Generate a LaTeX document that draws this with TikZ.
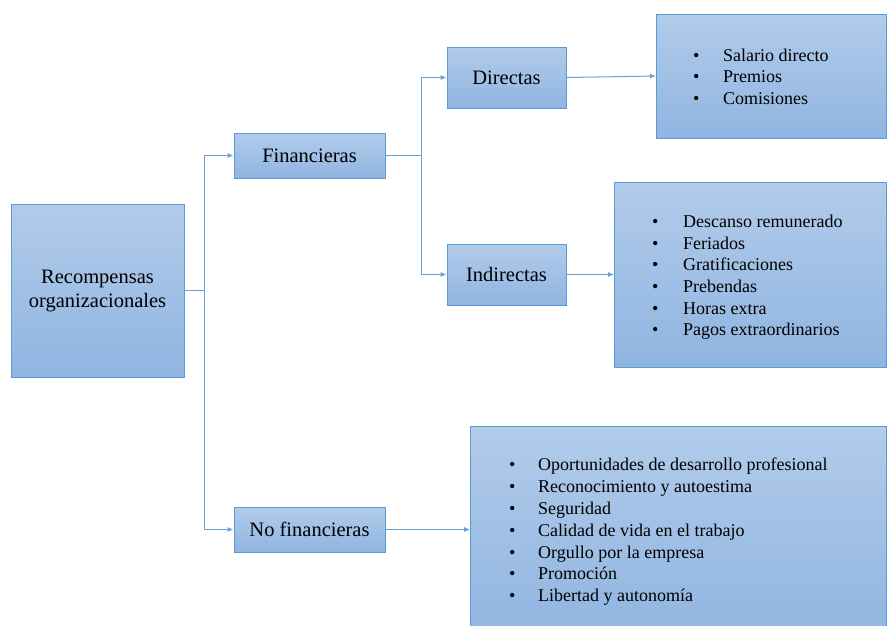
\documentclass[tikz,border=0pt]{standalone}
\usepackage{fontspec}
\setmainfont{Liberation Serif}
\usetikzlibrary{arrows.meta}

\definecolor{boxtop}{RGB}{178,203,234}
\definecolor{boxbot}{RGB}{143,181,225}
\definecolor{edge}{RGB}{91,155,213}
\definecolor{wire}{RGB}{105,160,215}

\tikzset{
  catbox/.style={draw=edge, line width=1pt, top color=boxtop, bottom color=boxbot,
    inner sep=0pt, font=\fontsize{20.5}{24}\selectfont, align=center},
  listbox/.style={draw=edge, line width=1pt, top color=boxtop, bottom color=boxbot, inner sep=0pt},
  item/.style={anchor=base west, inner sep=0pt, font=\fontsize{18}{22}\selectfont},
  wireline/.style={draw=wire, line width=1pt},
  wirearrow/.style={wireline, -{Latex[length=6pt,width=5pt]}}
}

\begin{document}
\begin{tikzpicture}[x=1pt,y=-1pt]
\useasboundingbox (0,0) rectangle (887,625);

% category boxes
\node[catbox, minimum width=173pt, minimum height=173pt] (rec) at (97.5,290.5) {Recompensas\\organizacionales};
\node[catbox, minimum width=151pt, minimum height=45pt] (fin) at (309.5,155.5) {Financieras};
\node[catbox, minimum width=151pt, minimum height=45pt] (nof) at (309.5,529.5) {No financieras};
\node[catbox, minimum width=119pt, minimum height=61pt] (dir) at (506.5,77.5) {Directas};
\node[catbox, minimum width=119pt, minimum height=61pt] (ind) at (506.5,274.5) {Indirectas};

% list boxes
\node[listbox, minimum width=230pt, minimum height=124pt] (lst1) at (771.5,76) {};
\node[listbox, minimum width=272pt, minimum height=185pt] (lst2) at (750.5,274.5) {};
\node[listbox, minimum width=416pt, minimum height=214pt] (lst3) at (678.5,533) {};

% list items
\foreach \t [count=\i] in {Salario directo, Premios, Comisiones} {
  \node[item] (b1\i) at (693,39.5+21.7*\i) {\textbullet};
  \node[item] (t1\i) at (723,39.5+21.7*\i) {\t};
}
\foreach \t [count=\i] in {Descanso remunerado, Feriados, Gratificaciones, Prebendas, Horas extra, Pagos extraordinarios} {
  \node[item] (b2\i) at (652,206+21.6*\i) {\textbullet};
  \node[item] (t2\i) at (683,206+21.6*\i) {\t};
}
\foreach \t [count=\i] in {Oportunidades de desarrollo profesional, Reconocimiento y autoestima, Seguridad, Calidad de vida en el trabajo, Orgullo por la empresa, Promoción, Libertad y autonomía} {
  \node[item] (b3\i) at (509,449+21.8*\i) {\textbullet};
  \node[item] (t3\i) at (538,449+21.8*\i) {\t};
}

% connectors
\coordinate (j1) at (204,290.5);
\coordinate (j2) at (421,155.5);
\draw[wireline] (rec.east) -- (j1);
\draw[wirearrow] (j1) |- (fin.west);
\draw[wirearrow] (j1) |- (nof.west);
\draw[wireline] (fin.east) -- (j2);
\draw[wirearrow] (j2) |- (dir.west);
\draw[wirearrow] (j2) |- (ind.west);
\draw[wirearrow] (dir.east) -- (lst1.west);
\draw[wirearrow] (ind.east) -- (lst2.west);
\draw[wirearrow] (nof.east) -- (nof.east -| lst3.west);
\end{tikzpicture}
\end{document}
